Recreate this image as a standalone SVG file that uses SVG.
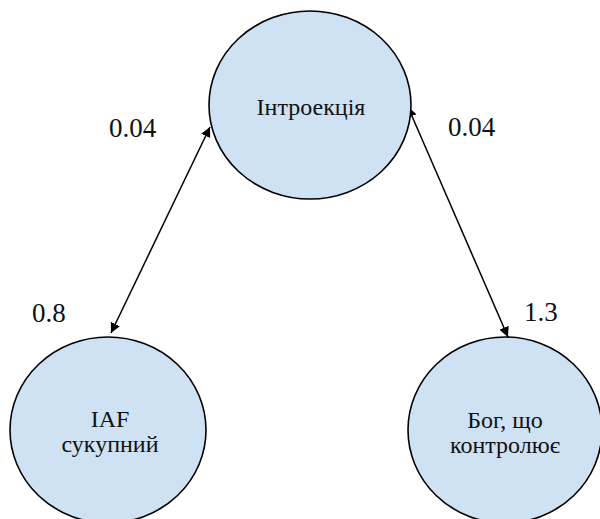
<svg xmlns="http://www.w3.org/2000/svg" width="600" height="519" viewBox="0 0 600 519">
<defs>
<marker id="ah" viewBox="0 0 10 10" refX="10" refY="5" markerWidth="10" markerHeight="10" markerUnits="userSpaceOnUse" orient="auto-start-reverse">
<path d="M0,0 L10,5 L0,10 z" fill="#000"/>
</marker>
</defs>
<rect width="600" height="519" fill="#fff"/>
<g id="edges" stroke="#000" stroke-width="1.5" fill="none">
<line x1="210" y1="127" x2="111" y2="333" marker-start="url(#ah)" marker-end="url(#ah)"/>
<line x1="408" y1="107" x2="508" y2="337" marker-start="url(#ah)" marker-end="url(#ah)"/>
</g>
<g id="edge-labels" fill="#111" font-size="27" font-family="Liberation Serif">
<text x="109" y="137">0.04</text>
<text x="448" y="136">0.04</text>
<text x="32" y="322">0.8</text>
<text x="524" y="321">1.3</text>
</g>
<g id="n1">
<ellipse cx="310" cy="105" rx="101" ry="94" fill="#cfe2f3" stroke="#000" stroke-width="1.6"/>
<text x="311" y="115" font-size="24" font-family="Liberation Serif" fill="#111" text-anchor="middle">Інтроекція</text>
</g>
<g id="n2">
<ellipse cx="108" cy="430" rx="98" ry="93" fill="#cfe2f3" stroke="#000" stroke-width="1.6"/>
<text x="110" y="427" font-size="24" font-family="Liberation Serif" fill="#111" text-anchor="middle">IAF</text>
<text x="110" y="452" font-size="24" font-family="Liberation Serif" fill="#111" text-anchor="middle">сукупний</text>
</g>
<g id="n3">
<ellipse cx="505" cy="430" rx="97" ry="93" fill="#cfe2f3" stroke="#000" stroke-width="1.6"/>
<text x="505" y="428" font-size="24" font-family="Liberation Serif" fill="#111" text-anchor="middle">Бог, що</text>
<text x="505" y="453" font-size="24" font-family="Liberation Serif" fill="#111" text-anchor="middle">контролює</text>
</g>
</svg>
